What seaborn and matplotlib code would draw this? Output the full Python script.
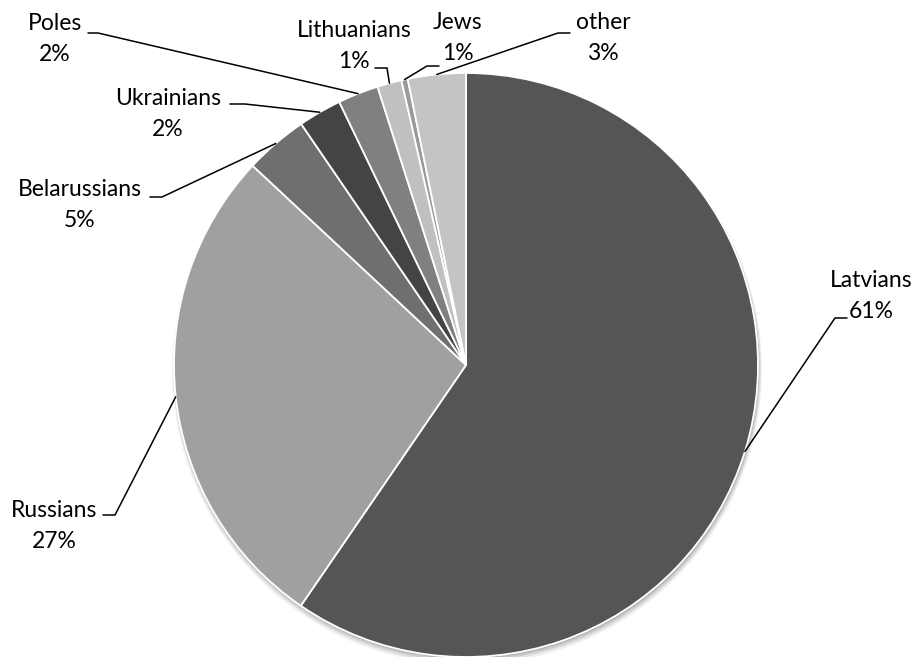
import matplotlib
matplotlib.use("Agg")
import matplotlib.pyplot as plt
import seaborn as sns
import numpy as np

# ---- data ----
groups = ["Latvians", "Russians", "Belarussians", "Ukrainians", "Poles",
          "Lithuanians", "Jews", "other"]
shares = [59.6, 27.4, 3.5, 2.4, 2.25, 1.35, 0.35, 3.2]
label_pct = ["61%", "27%", "5%", "2%", "2%", "1%", "1%", "3%"]
colors = ["#555555", "#a0a0a0", "#6f6f6f", "#444444", "#808080",
          "#c0c0c0", "#9a9a9a", "#c4c4c4"]

# label layout (pixel positions of label block centre and leader elbow)
label_pos = [(871, 296), (54, 526), (80, 205), (168, 114), (55, 39),
             (354, 46), (458, 38), (603, 38)]
elbow = [((835, 318), (847, 318)), ((115, 515), (103, 515)),
         ((162, 197), (150, 197)), ((245, 104), (230, 104)),
         ((98, 33), (88, 33)), ((387, 68), (375, 68)),
         ((427, 66), (439, 66)), ((558, 33), (570, 33))]

sns.set_theme(style="white")
plt.rcParams['font.family'] = ['Lato', 'DejaVu Sans']

W, H = 916, 657
fig = plt.figure(figsize=(W / 100, H / 100), dpi=100)
ax = fig.add_axes([0, 0, 1, 1])

cx, cy, R = 466, H - 365, 292

# soft shadow
for off, a, dr in [(5, 0.05, 3), (4, 0.07, 2), (3, 0.09, 1), (2, 0.12, 0)]:
    ax.add_patch(plt.Circle((cx + 1, cy - off), R + dr, color="black",
                            alpha=a, lw=0, zorder=0))

wedges, _ = ax.pie(shares, colors=colors, startangle=90, counterclock=False,
                   center=(cx, cy), radius=R, frame=True,
                   wedgeprops=dict(edgecolor="white", linewidth=1.3))
ax.set_xlim(0, W)
ax.set_ylim(0, H)
ax.set_aspect("equal")
ax.axis("off")

for w, name, pct, (lx, ly), (e1, e2) in zip(wedges, groups, label_pct,
                                            label_pos, elbow):
    mid = np.deg2rad((w.theta1 + w.theta2) / 2)
    sx, sy = cx + R * np.cos(mid), cy + R * np.sin(mid)
    xs = [sx, e1[0], e2[0]]
    ys = [sy, H - e1[1], H - e2[1]]
    ax.plot(xs, ys, color="black", lw=1.1, solid_joinstyle="miter", zorder=3)
    ax.text(lx, H - ly, f"{name}\n{pct}", ha="center", va="center",
            multialignment="center", fontsize=16.5, color="black",
            linespacing=1.6, zorder=4)

fig.savefig("out.png", dpi=100)
